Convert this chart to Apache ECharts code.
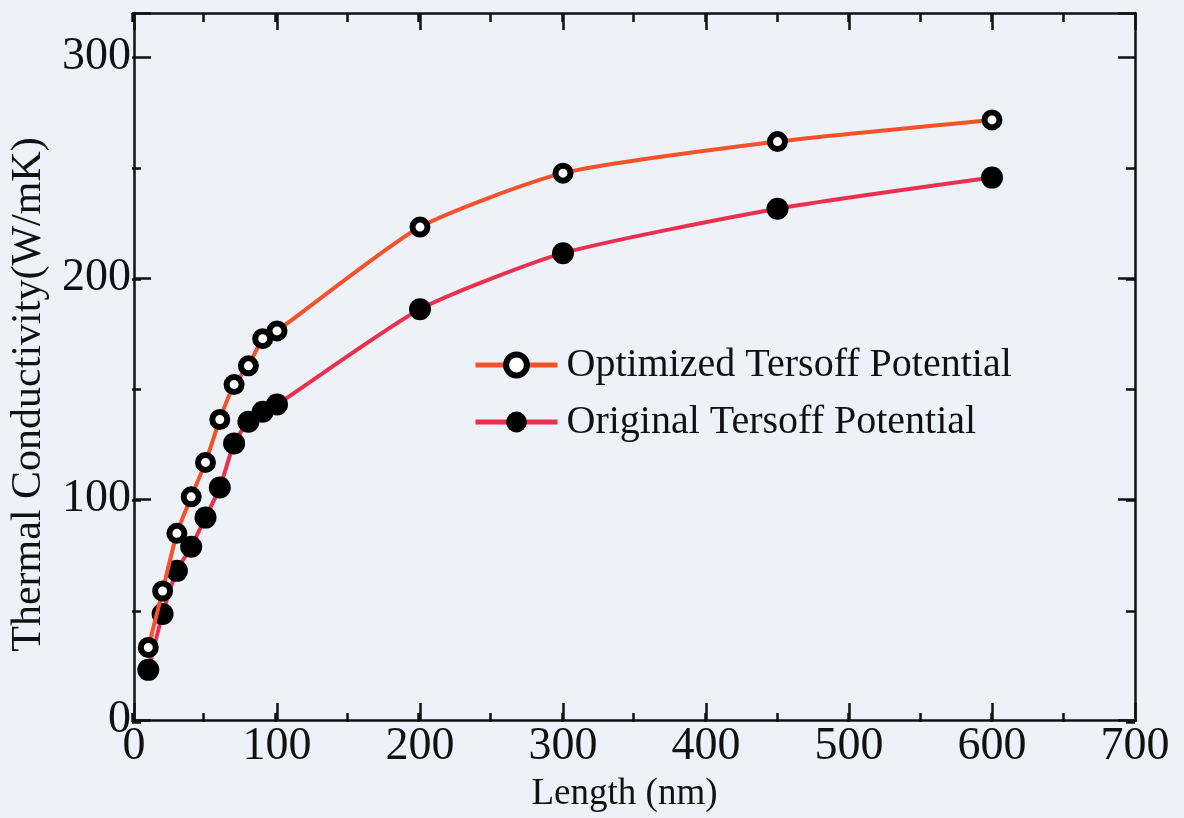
<!DOCTYPE html>
<html>
<head>
<meta charset="utf-8">
<script src="https://cdn.jsdelivr.net/npm/echarts@6/dist/echarts.min.js"></script>
<style>
html,body{margin:0;padding:0;background:#eef2f8;}
#c{width:1184px;height:818px;}
</style>
</head>
<body>
<div id="c"></div>
<script>
// Data
const lengths = [10, 20, 30, 40, 50, 60, 70, 80, 90, 100, 200, 300, 450, 600];
const optimized = [32.8, 58.4, 84.5, 101, 116.6, 136, 151.8, 160.3, 172.6, 176.1, 223.1, 247.5, 261.8, 271.6];
const original = [22.7, 48, 67.5, 78.4, 91.6, 105.2, 125.2, 135, 139.5, 142.8, 185.9, 211.3, 231.4, 245.5];
const seriesNames = ['Optimized Tersoff Potential', 'Original Tersoff Potential'];
const xTitle = 'Length (nm)';
const yTitle = 'Thermal Conductivity(W/mK)';

const FONT = '"Liberation Serif", "DejaVu Serif", serif';
const lineCol = {color: '#111', width: 2.5};

function pairs(vals) { return lengths.map((x, i) => [x, vals[i]]); }

function xAx(grid, pos, major, showLabel, name) {
  return {
    type: 'value', gridIndex: grid, position: pos, min: 0, max: 700, interval: major ? 100 : 50,
    axisLine: {show: major, onZero: false, lineStyle: lineCol},
    axisTick: {show: true, inside: true, length: major ? 17 : 9, lineStyle: lineCol},
    axisLabel: {show: showLabel, fontFamily: FONT, fontSize: 46, color: '#111', margin: 4},
    splitLine: {show: false},
    name: name || '', nameLocation: 'middle', nameGap: 56,
    nameTextStyle: {fontFamily: FONT, fontSize: 37, color: '#111', padding: [0, 20, 0, 0]}
  };
}
function yAx(grid, pos, major, showLabel, name) {
  return {
    type: 'value', gridIndex: grid, position: pos, min: 0, max: 320, interval: major ? 100 : 50,
    axisLine: {show: major, onZero: false, lineStyle: lineCol},
    axisTick: {show: true, inside: true, length: major ? 17 : 9, lineStyle: lineCol},
    axisLabel: {show: showLabel, fontFamily: FONT, fontSize: 46, color: '#111', margin: 3,
      formatter: v => (v % 100 === 0 ? String(v) : '')},
    splitLine: {show: false},
    name: name || '', nameLocation: 'middle', nameGap: 84, nameRotate: 90,
    nameTextStyle: {fontFamily: FONT, fontSize: 42, color: '#111', padding: [0, 56, 0, 0]}
  };
}

const G = {left: 132, right: 49, top: 13, bottom: 96, containLabel: false};

const chart = echarts.init(document.getElementById('c'));
chart.setOption({
  backgroundColor: '#eef2f8',
  animation: false,
  grid: [Object.assign({}, G), Object.assign({}, G)],
  xAxis: [
    xAx(0, 'bottom', true, true, xTitle),
    xAx(0, 'top', true, false),
    xAx(1, 'bottom', false, false),
    xAx(1, 'top', false, false)
  ],
  yAxis: [
    yAx(0, 'left', true, true, yTitle),
    yAx(0, 'right', true, false),
    yAx(1, 'left', false, false),
    yAx(1, 'right', false, false)
  ],
  legend: {
    left: 468, top: 340, orient: 'vertical', itemGap: 17,
    itemWidth: 82, itemHeight: 26,
    textStyle: {fontFamily: FONT, fontSize: 40, color: '#111', padding: [0, 0, 0, 4]},
    data: [
      {name: seriesNames[0], itemStyle: {color: '#ffffff', borderColor: '#000', borderWidth: 6},
       lineStyle: {color: '#f3522c', width: 5}},
      {name: seriesNames[1], itemStyle: {color: '#000', borderWidth: 0},
       lineStyle: {color: '#ea3050', width: 5}}
    ]
  },
  series: [
    {
      name: seriesNames[0], type: 'line', xAxisIndex: 0, yAxisIndex: 0,
      data: pairs(optimized), smooth: 0.2,
      symbol: 'circle', symbolSize: 15, z: 3,
      lineStyle: {color: '#f3522c', width: 4},
      itemStyle: {color: '#ffffff', borderColor: '#000', borderWidth: 6}
    },
    {
      name: seriesNames[1], type: 'line', xAxisIndex: 0, yAxisIndex: 0,
      data: pairs(original), smooth: 0.2,
      symbol: 'circle', symbolSize: 22, z: 2,
      lineStyle: {color: '#ea3050', width: 4},
      itemStyle: {color: '#000', borderWidth: 0}
    }
  ]
});
</script>
</body>
</html>
